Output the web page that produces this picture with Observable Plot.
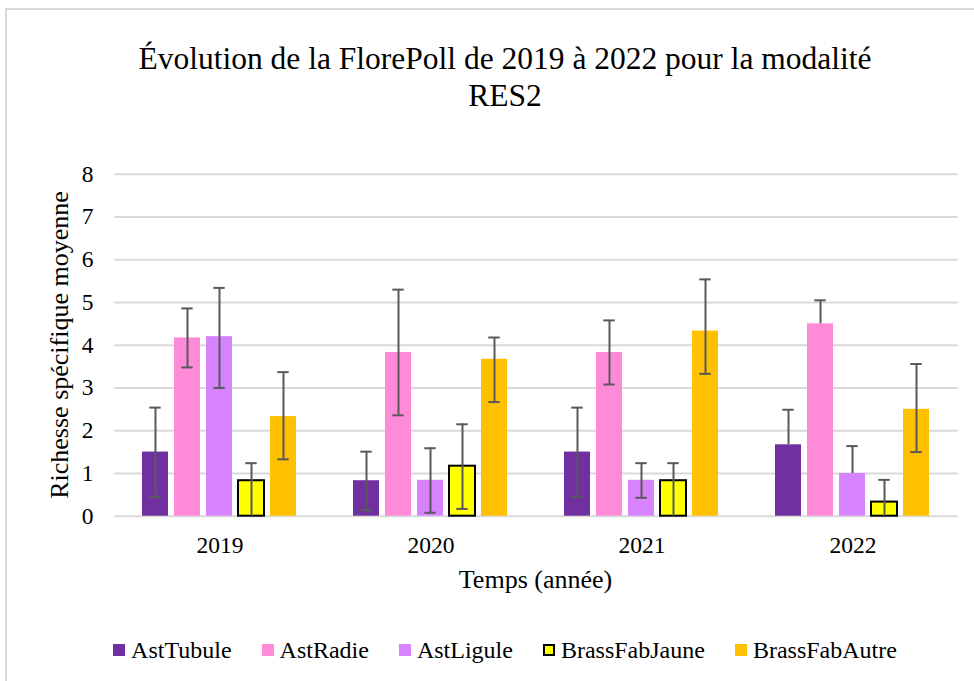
<!DOCTYPE html>
<html>
<head>
<meta charset="utf-8">
<script src="https://cdn.jsdelivr.net/npm/d3@7"></script>
<script src="https://cdn.jsdelivr.net/npm/@observablehq/plot@0.6"></script>
<style>
  html, body { margin: 0; padding: 0; background: #fff; }
  #wrap, #wrap * { font-family: 'Liberation Serif' !important; }
  #wrap { position: relative; width: 974px; height: 681px; overflow: hidden; color: #000; }
  #frame { position: absolute; left: 5px; top: 8px; width: 1100px; height: 800px; border: 2px solid #d9d9d9; box-sizing: border-box; }
  #title { position: absolute; left: 0; top: 40px; width: 1010px; text-align: center; font-size: 31.5px; line-height: 37px; }
  #chart { position: absolute; left: 0; top: 150px; }
  #ylabel { position: absolute; left: 60px; top: 345px; transform: translate(-50%, -50%) rotate(-90deg); font-size: 26px; white-space: nowrap; }
  #xlabel { position: absolute; left: 535.5px; top: 580px; transform: translate(-50%, -50%); font-size: 26px; white-space: nowrap; }
  #legend { position: absolute; left: 0; top: 635px; width: 1010px; height: 30px; display: flex; justify-content: center; align-items: center; gap: 30px; font-size: 24px; }
  .item { display: flex; align-items: center; gap: 6px; white-space: nowrap; }
  .sw { width: 12px; height: 12px; box-sizing: border-box; }
</style>
</head>
<body>
<div id="wrap">
  <div id="frame"></div>
  <div id="title" style="font-family:'Liberation Serif'">Évolution de la FlorePoll de 2019 à 2022 pour la modalité<br>RES2</div>
  <div id="chart"></div>
  <div id="ylabel" style="font-family:'Liberation Serif'">Richesse spécifique moyenne</div>
  <div id="xlabel" style="font-family:'Liberation Serif'">Temps (année)</div>
  <div id="legend"></div>
</div>
<script>
// ---- data ----
const years = ["2019", "2020", "2021", "2022"];
const series = ["AstTubule", "AstRadie", "AstLigule", "BrassFabJaune", "BrassFabAutre"];
const colors = ["#7030A0", "#FF8AD8", "#D783FF", "#FFFF00", "#FFC000"];
const yTicks = [0, 1, 2, 3, 4, 5, 6, 7, 8];

// mean values per series, one value per year
const valAstTubule     = [1.5, 0.83, 1.5, 1.67];
const valAstRadie      = [4.17, 3.83, 3.83, 4.5];
const valAstLigule     = [4.2, 0.84, 0.84, 1.0];
const valBrassFabJaune = [0.83, 1.17, 0.83, 0.33];
const valBrassFabAutre = [2.33, 3.67, 4.33, 2.5];

// error bar upper ends
const hiAstTubule     = [2.54, 1.51, 2.54, 2.49];
const hiAstRadie      = [4.86, 5.30, 4.58, 5.05];
const hiAstLigule     = [5.34, 1.59, 1.24, 1.64];
const hiBrassFabJaune = [1.24, 2.15, 1.24, 0.85];
const hiBrassFabAutre = [3.37, 4.18, 5.54, 3.56];

// error bar lower ends (equal to value = no lower bar; below 0 = clipped)
const loAstTubule     = [0.45, 0.14, 0.45, 1.67];
const loAstRadie      = [3.48, 2.36, 3.08, 4.5];
const loAstLigule     = [3.0, 0.08, 0.43, 1.0];
const loBrassFabJaune = [-0.2, 0.17, -0.2, -0.2];
const loBrassFabAutre = [1.33, 2.67, 3.33, 1.5];

const vals = [valAstTubule, valAstRadie, valAstLigule, valBrassFabJaune, valBrassFabAutre];
const his  = [hiAstTubule, hiAstRadie, hiAstLigule, hiBrassFabJaune, hiBrassFabAutre];
const los  = [loAstTubule, loAstRadie, loAstLigule, loBrassFabJaune, loBrassFabAutre];

const rows = [];
years.forEach((year, i) => {
  series.forEach((s, j) => {
    rows.push({year, series: s, value: vals[j][i], hi: his[j][i], lo: los[j][i]});
  });
});
const caps = [];
rows.forEach(d => {
  caps.push({year: d.year, series: d.series, y: d.hi});
  if (d.lo > 0 && d.lo < d.value) caps.push({year: d.year, series: d.series, y: d.lo});
});
const errRows = rows.filter(d => d.hi > d.value || d.lo < d.value);

const FONT = "'Liberation Serif'";

const chart = Plot.plot({
  width: 974,
  height: 460,
  marginTop: 23.7,
  marginBottom: 94.3,
  marginLeft: 113,
  marginRight: 16,
  style: {fontFamily: FONT, color: "#000", background: "transparent", overflow: "visible"},
  fx: {domain: years, padding: 0},
  x: {domain: series, paddingInner: 0.18, paddingOuter: 0.835, axis: null},
  y: {domain: [0, 8]},
  color: {domain: series, range: colors},
  marks: [
    Plot.gridY(yTicks, {stroke: "#d9d9d9", strokeOpacity: 1, strokeWidth: 2}),
    Plot.barY(rows, {fx: "year", x: "series", y: "value", fill: "series"}),
    Plot.barY(rows.filter(d => d.series === "BrassFabJaune"), {fx: "year", x: "series", y: "value", fill: "none", stroke: "#000", strokeWidth: 2}),
    Plot.ruleX(errRows, {fx: "year", x: "series", y1: d => Math.max(d.lo, 0), y2: "hi", stroke: "#595959", strokeWidth: 2}),
    Plot.tickY(caps, {fx: "year", x: "series", y: "y", stroke: "#595959", strokeWidth: 2, insetLeft: 7.3, insetRight: 7.3}),
    Plot.axisY(yTicks, {tickSize: 0, tickPadding: 21, fontSize: 23.5, label: null}),
    Plot.axisFx({anchor: "bottom", tickSize: 0, tickPadding: 20, fontSize: 23.5, label: null})
  ]
});
chart.querySelectorAll("g, text").forEach(t => {
  t.removeAttribute("font-family");
  t.style.setProperty("font-family", FONT, "important");
});
document.getElementById("chart").appendChild(chart);

// legend built from the same arrays
const legend = document.getElementById("legend");
series.forEach((s, j) => {
  const item = document.createElement("div");
  item.className = "item";
  const sw = document.createElement("div");
  sw.className = "sw";
  sw.style.background = colors[j];
  if (s === "BrassFabJaune") sw.style.border = "2px solid #000";
  const t = document.createElement("span");
  t.textContent = s;
  t.style.setProperty("font-family", FONT, "important");
  item.appendChild(sw);
  item.appendChild(t);
  legend.appendChild(item);
});
["title", "ylabel", "xlabel"].forEach(id => document.getElementById(id).style.setProperty("font-family", FONT, "important"));
</script>
</body>
</html>
